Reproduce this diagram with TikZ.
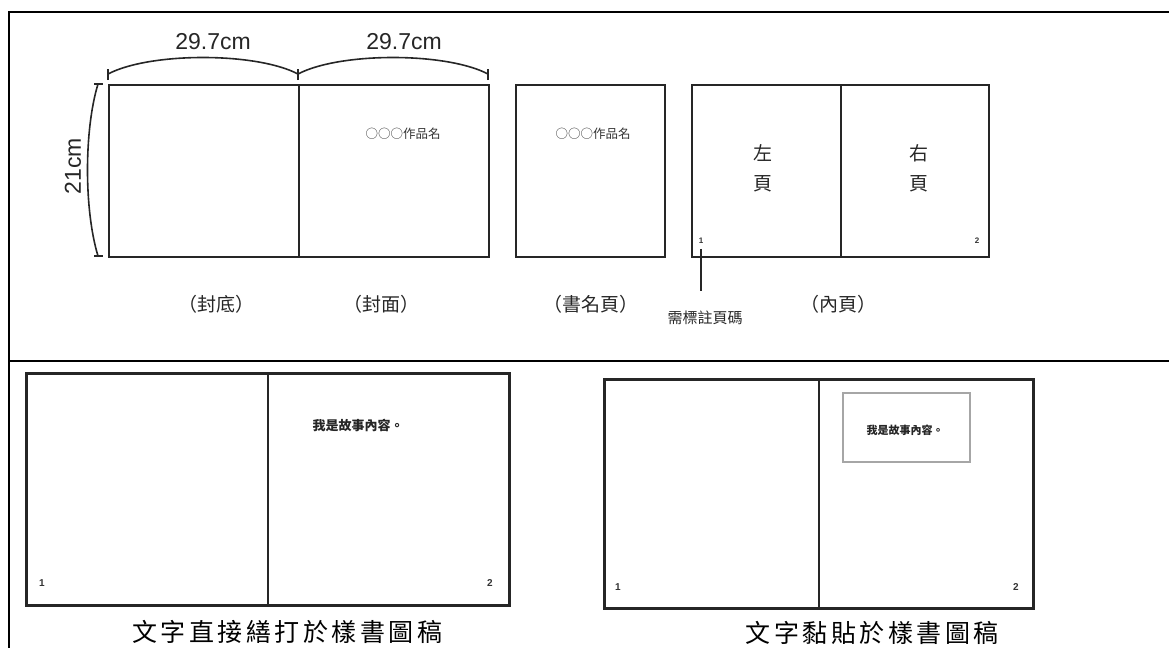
\documentclass[tikz,border=0pt]{standalone}
\usepackage{fontspec}
\setmainfont{Liberation Sans}
\newfontfamily\cjk{Noto Sans CJK TC}
\newfontfamily\cjkwide[LetterSpace=14]{Noto Sans CJK TC}
\usetikzlibrary{shadows}
\begin{document}
\begin{tikzpicture}[x=1pt,y=-1pt,
  frame/.style={line width=2.5pt, black},
  pagebox/.style={draw=black!85, line width=2pt, inner sep=0pt, anchor=north west},
  bigbox/.style={draw=black!85, line width=2.6pt, inner sep=0pt, anchor=north west},
  spine/.style={draw=black!85, line width=2pt},
  dim/.style={draw=black!85, line width=1.6pt},
  dimlabel/.style={inner sep=0pt, font=\fontsize{23}{23}\selectfont, text=black!85},
  caplabel/.style={inner sep=0pt, font=\cjk\fontsize{19}{19}\selectfont, text=black!85},
  titlelabel/.style={inner sep=0pt, font=\cjk\fontsize{12.5}{12.5}\selectfont, text=black!80},
  sidelabel/.style={inner sep=0pt, align=center, font=\cjk\fontsize{19}{30}\selectfont, text=black!85},
  pnum/.style={inner sep=0pt, font=\fontsize{8}{8}\selectfont\bfseries, text=black!80},
  bnum/.style={inner sep=0pt, font=\fontsize{10}{10}\selectfont\bfseries, text=black!80},
  story/.style={inner sep=0pt, font=\cjk\fontsize{13}{13}\selectfont\bfseries, text=black!85},
  pastebox/.style={draw=black!35, line width=1.2pt, fill=white,
    drop shadow={shadow xshift=1.2pt, shadow yshift=-1.2pt, opacity=0.25}},
  bottomcap/.style={inner sep=0pt, font=\cjkwide\fontsize{25}{25}\selectfont, text=black}
]
\useasboundingbox (0,0) rectangle (1169,648);
% outer frame
\draw[frame] (1169,12) -- (9,12) -- (9,648);
\draw[frame] (9,361) -- (1169,361);

% cover spread
\node[pagebox, minimum width=380pt, minimum height=172pt] (cover) at (108,84) {};
\draw[spine] (cover.north) -- (cover.south);
% width dimensions
\coordinate (tA) at (108,74);
\coordinate (tB) at (298,74);
\coordinate (tC) at (488,74);
\draw[dim] (tA) .. controls (150,52) and (256,52) .. (tB);
\draw[dim] (tB) .. controls (340,52) and (446,52) .. (tC);
\foreach \p in {tA,tB,tC} \draw[dim] ([yshift=-6pt]\p) -- ([yshift=5pt]\p);
\node[dimlabel] (w1) at (213,42) {29.7cm};
\node[dimlabel] (w2) at (404,42) {29.7cm};
% height dimension
\coordinate (hA) at (98,84);
\coordinate (hB) at (98,256);
\draw[dim] (hA) .. controls (84,130) and (84,210) .. (hB);
\foreach \p in {hA,hB} \draw[dim] ([xshift=-4pt]\p) -- ([xshift=5pt]\p);
\node[dimlabel, rotate=90] (h1) at (73,166) {21cm};

\node[titlelabel] (t1) at (403,134) {○○○作品名};
\node[caplabel] (c1) at (216,304) {（封底）};
\node[caplabel] (c2) at (381,304) {（封面）};

% title page
\node[pagebox, minimum width=149pt, minimum height=172pt] (title) at (515,84) {};
\node[titlelabel] (t2) at (593,134) {○○○作品名};
\node[caplabel] (c3) at (591,304) {（書名頁）};

% inner spread
\node[pagebox, minimum width=297pt, minimum height=172pt] (inner) at (691,84) {};
\draw[spine] (inner.north) -- (inner.south);
\node[sidelabel] (left) at (763,168) {左\\頁};
\node[sidelabel] (right) at (919,168) {右\\頁};
\node[pnum] (n1) at (701,241) {1};
\node[pnum] (n2) at (977,241) {2};
\node[caplabel] (c4) at (838,304) {（內頁）};
\node[inner sep=0pt, font=\cjk\fontsize{15}{15}\selectfont, text=black!85] (note) at (705,318) {需標註頁碼};
\draw[black!85, line width=1.2pt] ([yshift=-5pt]n1.south) -- ([yshift=-47pt]n1.south);

% bottom left spread
\node[bigbox, minimum width=483pt, minimum height=232pt] (spreadA) at (25,372) {};
\draw[spine, line width=2.6pt] (spreadA.north) -- (spreadA.south);
\node[story] (s1) at (358,425) {我是故事內容。};
\node[bnum] (a1) at (42,583) {1};
\node[bnum] (a2) at (490,583) {2};
\node[bottomcap] (capA) at (287,632) {文字直接繕打於樣書圖稿};

% bottom right spread
\node[bigbox, minimum width=429pt, minimum height=229pt] (spreadB) at (603,378) {};
\draw[spine, line width=2.6pt] (spreadB.north) -- (spreadB.south);
\node[pastebox, minimum width=127pt, minimum height=69pt, inner sep=0pt] (paste) at (906.5,427.5) {};
\node[story, font=\cjk\fontsize{11}{11}\selectfont\bfseries] (s2) at (905,430) {我是故事內容。};
\node[bnum] (b1) at (618,587) {1};
\node[bnum] (b2) at (1016,587) {2};
\node[bottomcap] (capB) at (872,633) {文字黏貼於樣書圖稿};
\end{tikzpicture}
\end{document}
